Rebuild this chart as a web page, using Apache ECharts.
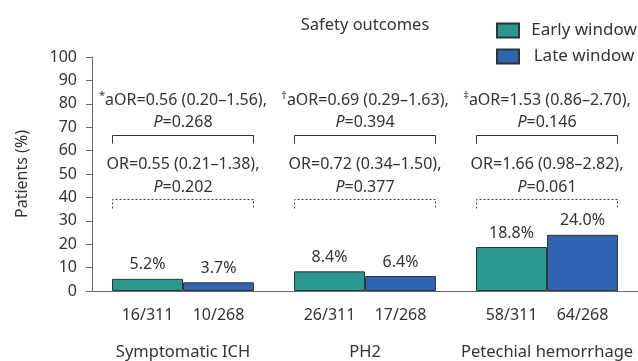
<!DOCTYPE html>
<html>
<head>
<meta charset="utf-8">
<script src="https://cdn.jsdelivr.net/npm/echarts@6/dist/echarts.min.js"></script>
<style>
  html, body { margin: 0; padding: 0; background: #fff; }
  #chart { width: 638px; height: 361px; }
</style>
</head>
<body>
<div id="chart"></div>
<script>
// Outcome groups and percentages per treatment window
const categories = ['Symptomatic ICH', 'PH2', 'Petechial hemorrhage'];
const earlyPct = [5.2, 8.4, 18.8];
const latePct = [3.7, 6.4, 24.0];
const earlyCounts = ['16/311', '26/311', '58/311'];
const lateCounts = ['10/268', '17/268', '64/268'];

// Adjusted and crude odds ratios per group
const adjMarks = ['*', '\u2020', '\u2021'];
const adjOR = ['aOR=0.56 (0.20\u20131.56),', 'aOR=0.69 (0.29\u20131.63),', 'aOR=1.53 (0.86\u20132.70),'];
const adjP = ['0.268', '0.394', '0.146'];
const crudeOR = ['OR=0.55 (0.21\u20131.38),', 'OR=0.72 (0.34\u20131.50),', 'OR=1.66 (0.98\u20132.82),'];
const crudeP = ['0.202', '0.377', '0.061'];

const yTicks = { min: 0, max: 100, interval: 10 };

const FONT = '"Noto Sans", "DejaVu Sans", sans-serif';
const TEXT = '#333';
const EARLY = '#2a9891';
const LATE = '#2f64b1';
const EDGE = '#2e3535';

// Vertical placement of the comparison annotations (in axis units)
const LVL = { adjText: 81.6, adjP: 71.9, adjBracket: 66.5, crudeText: 54.3, crudeP: 44.4, crudeBracket: 39.2 };

const annotationRich = {
  b: { fontSize: 16, fontFamily: FONT, color: TEXT, fill: TEXT, lineHeight: 20 },
  s: { fontSize: 11, fontFamily: FONT, color: TEXT, fill: TEXT, verticalAlign: 'top', lineHeight: 20 },
  i: { fontSize: 16, fontFamily: FONT, color: TEXT, fill: TEXT, fontStyle: 'italic', lineHeight: 20 }
};

function bracket(x0, x1, y, drop, dashed) {
  const px0 = Math.round(x0) + 0.5, px1 = Math.round(x1) - 0.5, py = Math.round(y) + 0.5;
  return {
    type: 'polyline',
    shape: { points: [[px0, py + drop], [px0, py], [px1, py], [px1, py + drop]] },
    style: { stroke: dashed ? '#444' : '#333', lineWidth: 1, fill: null, lineDash: dashed ? [2, 2] : null }
  };
}

function label(text, x, y) {
  return {
    type: 'text',
    style: { text: text, x: x, y: y, align: 'center', verticalAlign: 'middle', rich: annotationRich, fontFamily: FONT, fontSize: 16, fill: TEXT }
  };
}

function renderComparison(params, api) {
  const i = params.dataIndex;
  const idx = api.value(0);
  const band = api.size([1, 0])[0];
  const half = band * 0.39;
  const cx = api.coord([idx, 0])[0];
  const yAt = v => api.coord([idx, v])[1];
  return {
    type: 'group',
    children: [
      label('{s|' + adjMarks[i] + '}{b|' + adjOR[i] + '}', cx, yAt(LVL.adjText)),
      label('{i|P}{b|=' + adjP[i] + '}', cx, yAt(LVL.adjP)),
      bracket(cx - half, cx + half, yAt(LVL.adjBracket), 8, false),
      label('{b|' + crudeOR[i] + '}', cx, yAt(LVL.crudeText)),
      label('{i|P}{b|=' + crudeP[i] + '}', cx, yAt(LVL.crudeP)),
      bracket(cx - half, cx + half, yAt(LVL.crudeBracket), 9, true)
    ]
  };
}

const chart = echarts.init(document.getElementById('chart'), null, { renderer: 'canvas' });

const barLabel = {
  show: true,
  position: 'top',
  distance: 6,
  fontFamily: FONT,
  fontSize: 16,
  color: TEXT,
  formatter: p => p.value.toFixed(1) + '%'
};

chart.setOption({
  animation: false,
  backgroundColor: '#fff',
  textStyle: { fontFamily: FONT, color: TEXT },
  title: {
    text: 'Safety outcomes',
    left: 365,
    top: 15,
    padding: 0,
    textAlign: 'center',
    textStyle: { fontFamily: FONT, fontSize: 16.5, fontWeight: 'normal', color: TEXT, lineHeight: 20 }
  },
  legend: {
    orient: 'vertical',
    left: 496,
    top: 22,
    padding: 0,
    itemWidth: 22,
    itemHeight: 14,
    itemGap: 9,
    icon: 'rect',
    data: ['Early window', 'Late window'],
    formatter: '{t|{name}}',
    textStyle: {
      rich: { t: { width: 120, align: 'center', fontFamily: FONT, fontSize: 17, color: TEXT, lineHeight: 20 } }
    }
  },
  grid: { left: 92, right: 0, top: 57, bottom: 70, containLabel: false },
  xAxis: {
    type: 'category',
    data: categories,
    axisLine: { lineStyle: { color: '#6a6a6a', width: 1 } },
    axisTick: { show: false },
    axisLabel: {
      interval: 0,
      margin: 14,
      formatter: (name, i) => '{n|' + earlyCounts[i] + '}{n|' + lateCounts[i] + '}\n{g|' + name + '}',
      rich: {
        n: { width: 71, align: 'center', fontFamily: FONT, fontSize: 16, color: TEXT, lineHeight: 20 },
        g: { fontFamily: FONT, fontSize: 16.5, color: TEXT, lineHeight: 54 }
      }
    }
  },
  yAxis: {
    type: 'value',
    min: yTicks.min,
    max: yTicks.max,
    interval: yTicks.interval,
    name: 'Patients (%)',
    nameLocation: 'middle',
    nameGap: 62,
    nameTextStyle: { fontFamily: FONT, fontSize: 16, color: TEXT },
    axisLine: { show: true, lineStyle: { color: '#6a6a6a', width: 1 } },
    axisTick: { show: true, length: 6, lineStyle: { color: '#6a6a6a' } },
    axisLabel: { fontFamily: FONT, fontSize: 16, color: TEXT, margin: 15 },
    splitLine: { show: false }
  },
  series: [
    {
      name: 'Early window',
      type: 'bar',
      data: earlyPct,
      barGap: '0%',
      barCategoryGap: '22%',
      itemStyle: { color: EARLY, borderColor: EDGE, borderWidth: 1 },
      label: barLabel
    },
    {
      name: 'Late window',
      type: 'bar',
      data: latePct,
      barGap: '0%',
      barCategoryGap: '22%',
      itemStyle: { color: LATE, borderColor: EDGE, borderWidth: 1 },
      label: barLabel
    },
    {
      name: 'Comparisons',
      type: 'custom',
      data: categories.map((c, i) => [i]),
      encode: { x: 0 },
      renderItem: renderComparison,
      silent: true,
      z: 5
    }
  ]
});
</script>
</body>
</html>
